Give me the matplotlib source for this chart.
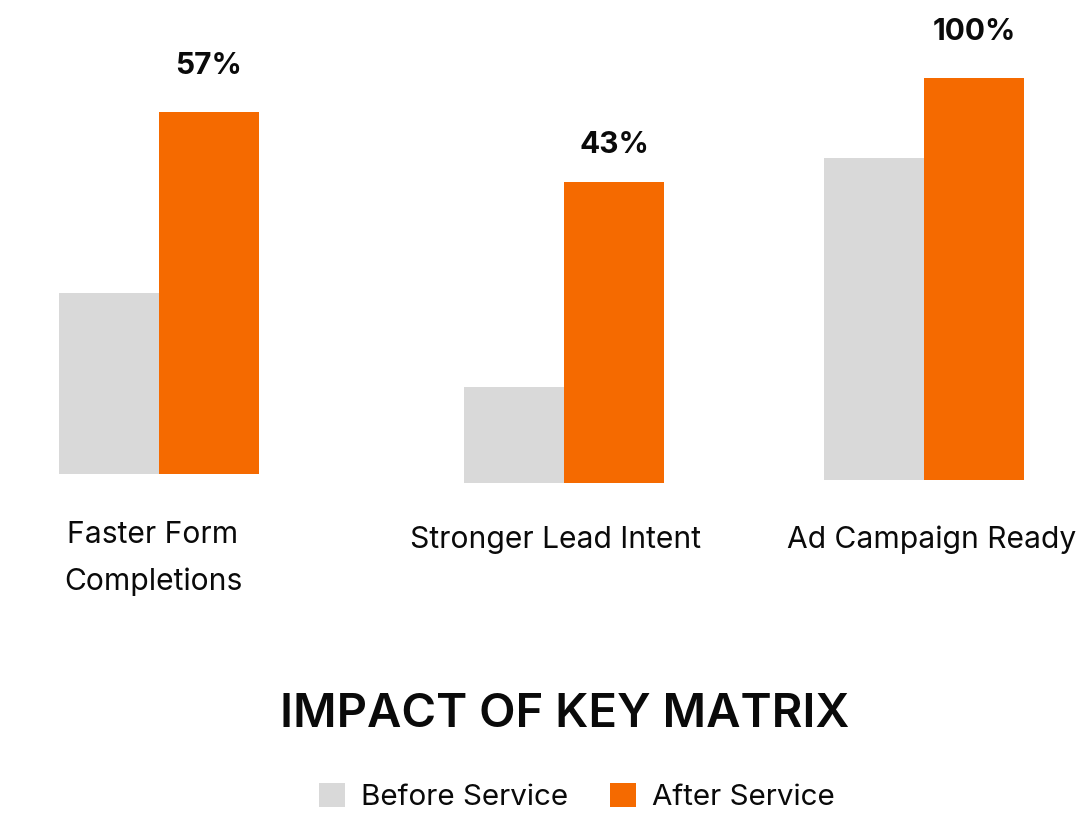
import matplotlib
matplotlib.use("Agg")
import matplotlib.pyplot as plt

plt.rcParams['font.family'] = ['Inter', 'DejaVu Sans']

categories = ["Faster Form\nCompletions", "Stronger Lead Intent", "Ad Campaign Ready"]
before = [45, 24, 80]
after = [90, 75, 100]
gains = ["57%", "43%", "100%"]
series = ["Before Service", "After Service"]
title = "IMPACT OF KEY MATRIX"

GRAY = "#D9D9D9"
ORANGE = "#F56A00"
INK = "#0A0A0A"

# layout (pixel canvas 1078 x 826, 1 value unit = 4.02 px)
W, H = 1078, 826
px = 4.02
base_px = 474
group_x = [159, 564, 924]
bar_w = 100
baseline = [0, -2.24, -1.49]          # the groups sit on slightly different floors
label_gap = [33, 26, 33]              # points above the orange bar
cat_x = [153, 555, 932]
cat_y = [543, 548, 548]

fig = plt.figure(figsize=(W / 100, H / 100), dpi=100)
ax = fig.add_axes([0, 0, 1, 1])
ax.set_xlim(0, W)
ax.set_ylim((base_px - H) / px, base_px / px)
ax.axis("off")

xb = [x - bar_w / 2 for x in group_x]
xa = [x + bar_w / 2 for x in group_x]
ax.bar(xb, before, width=bar_w, bottom=baseline, color=GRAY, label=series[0])
ax.bar(xa, after, width=bar_w, bottom=baseline, color=ORANGE, label=series[1])

for x, v, b, g, gap in zip(xa, after, baseline, gains, label_gap):
    ax.annotate(g, (x, v + b), xytext=(0, gap), textcoords="offset points",
                ha="center", va="center", fontsize=21.5, fontweight="bold", color=INK)

for name, x, y in zip(categories, cat_x, cat_y):
    for i, line in enumerate(name.split("\n")):
        fig.text(x / W, 1 - (y + i * 46.6) / H, line, ha="center", va="baseline",
                 fontsize=21.6, color=INK)

fig.text(565 / W, 1 - 727 / H, title, ha="center", va="baseline",
         fontsize=34, fontweight="semibold", color=INK)

ax.legend(loc="center", bbox_to_anchor=(577 / W, 1 - 797 / H),
          bbox_transform=fig.transFigure, ncol=2, frameon=False, fontsize=21.3,
          handlelength=0.88, handleheight=0.88, handletextpad=0.55,
          columnspacing=1.42, borderpad=0, labelcolor=INK)

fig.savefig("out.png", dpi=100, facecolor="white")
